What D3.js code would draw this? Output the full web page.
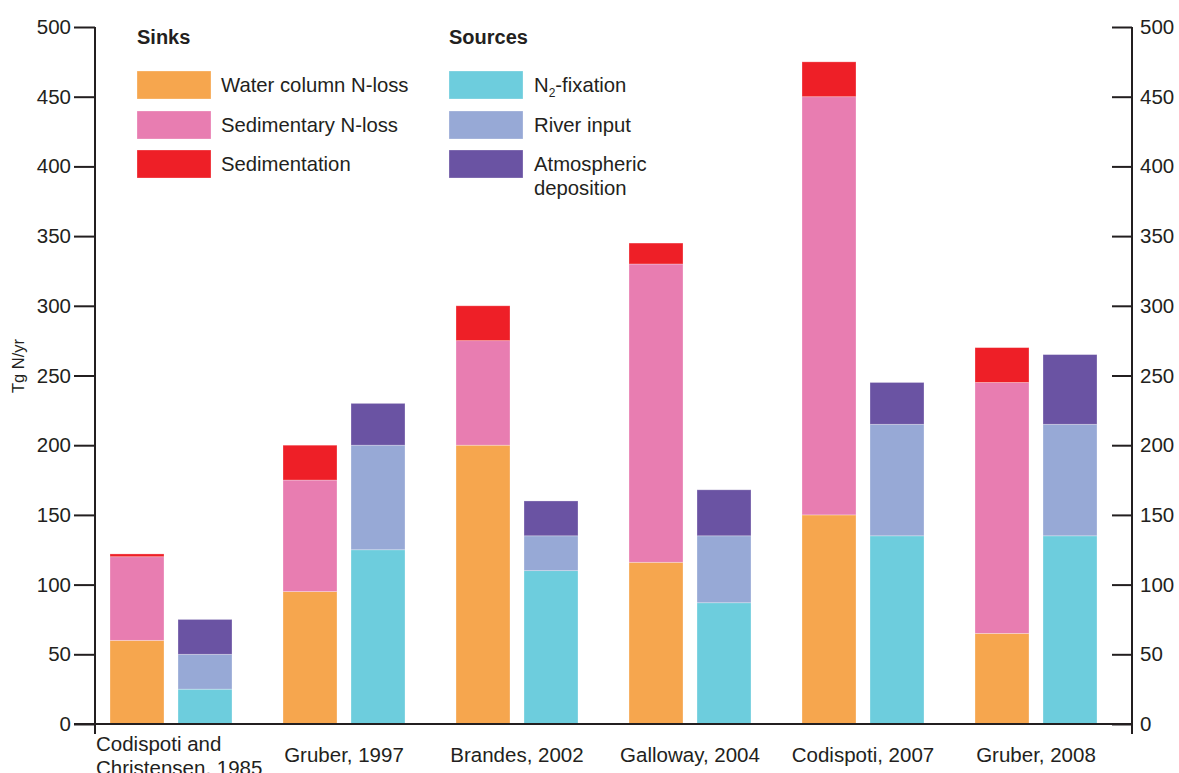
<!DOCTYPE html>
<html>
<head>
<meta charset="utf-8">
<script src="https://cdn.jsdelivr.net/npm/d3@7/dist/d3.min.js"></script>
<style>
  html, body { margin: 0; padding: 0; background: #fff; }
  svg { display: block; font-family: "Liberation Sans", Arial, Helvetica, sans-serif; }
</style>
</head>
<body>
<svg id="chart" width="1179" height="773"></svg>
<script>
// ---- Data ----
const categories = ["Codispoti and\nChristensen, 1985", "Gruber, 1997", "Brandes, 2002", "Galloway, 2004", "Codispoti, 2007", "Gruber, 2008"];
// Sinks (Tg N/yr)
const waterColumnNloss = [60, 95, 200, 116, 150, 65];
const sedimentaryNloss = [60, 80, 75, 214, 300, 180];
const sedimentation    = [2, 25, 25, 15, 25, 25];
// Sources (Tg N/yr)
const n2Fixation       = [25, 125, 110, 87, 135, 135];
const riverInput       = [25, 75, 25, 48, 80, 80];
const atmDeposition    = [25, 30, 25, 33, 30, 50];
const yTicks = [0, 50, 100, 150, 200, 250, 300, 350, 400, 450, 500];

const sinkKeys = ["Water column N-loss", "Sedimentary N-loss", "Sedimentation"];
const sourceKeys = ["N2-fixation", "River input", "Atmospheric deposition"];
const colors = {
  "Water column N-loss": "#F6A64E",
  "Sedimentary N-loss": "#E87DB1",
  "Sedimentation": "#EE1F27",
  "N2-fixation": "#6DCDDD",
  "River input": "#97A9D6",
  "Atmospheric deposition": "#6A53A3"
};

const sinkRows = categories.map((c, i) => ({
  cat: c,
  "Water column N-loss": waterColumnNloss[i],
  "Sedimentary N-loss": sedimentaryNloss[i],
  "Sedimentation": sedimentation[i]
}));
const sourceRows = categories.map((c, i) => ({
  cat: c,
  "N2-fixation": n2Fixation[i],
  "River input": riverInput[i],
  "Atmospheric deposition": atmDeposition[i]
}));

// ---- Layout ----
const svg = d3.select("#chart");
const ink = "#231F20";
const axisLeftX = 95, axisRightX = 1132;

const y = d3.scaleLinear().domain([0, 500]).range([724, 27]);
const x = d3.scaleBand().domain(categories).range([84.5, 1122.5]).paddingInner(0).paddingOuter(0);
const xi = d3.scaleBand().domain(["sinks", "sources"]).range([25.5, 147.5]).paddingInner(0.206).paddingOuter(0);

// ---- Bars ----
function drawStack(rows, keys, group) {
  const series = d3.stack().keys(keys)(rows);
  const g = svg.append("g");
  series.forEach(s => {
    g.selectAll(null).data(s).enter().append("rect")
      .attr("x", d => x(d.data.cat) + xi(group))
      .attr("width", xi.bandwidth())
      .attr("y", d => y(d[1]))
      .attr("height", d => y(d[0]) - y(d[1]))
      .attr("fill", colors[s.key])
      .attr("stroke", "rgba(255,255,255,0.35)")
      .attr("stroke-width", 0.8);
  });
}
drawStack(sinkRows, sinkKeys, "sinks");
drawStack(sourceRows, sourceKeys, "sources");

// ---- Axes ----
const leftAxis = d3.axisLeft(y).tickValues(yTicks).tickSize(21).tickPadding(3);
const gl = svg.append("g").attr("transform", `translate(${axisLeftX},0)`).call(leftAxis);
const rightAxis = d3.axisRight(y).tickValues(yTicks).tickSize(-20).tickPadding(8);
const gr = svg.append("g").attr("transform", `translate(${axisRightX},0)`).call(rightAxis);
[gl, gr].forEach(g => {
  g.select(".domain").remove();
  g.selectAll(".tick line").attr("stroke", ink).attr("stroke-width", 2);
  g.selectAll(".tick text").attr("fill", ink).style("font-size", "20.5px")
    .style("font-family", '"Liberation Sans", Arial, sans-serif');
});

// axis lines (extend a little below zero)
svg.append("line").attr("x1", axisLeftX).attr("x2", axisLeftX)
  .attr("y1", y(500)).attr("y2", y(0) + 10).attr("stroke", ink).attr("stroke-width", 2);
svg.append("line").attr("x1", axisRightX).attr("x2", axisRightX)
  .attr("y1", y(500)).attr("y2", y(0) + 10).attr("stroke", ink).attr("stroke-width", 2);
svg.append("line").attr("x1", axisLeftX - 21).attr("x2", axisRightX)
  .attr("y1", y(0)).attr("y2", y(0)).attr("stroke", ink).attr("stroke-width", 2);

// category labels
categories.forEach((c, i) => {
  const lines = c.split("\n");
  if (lines.length > 1) {
    const t = svg.append("text").attr("fill", ink).style("font-size", "20.5px")
      .attr("x", axisLeftX + 1).attr("y", 751);
    lines.forEach((ln, j) => {
      t.append("tspan").attr("x", axisLeftX + 1).attr("dy", j === 0 ? 0 : 24).text(ln);
    });
  } else {
    svg.append("text").attr("fill", ink).style("font-size", "20.5px")
      .attr("x", x(c) + x.bandwidth() / 2).attr("y", 762)
      .attr("text-anchor", "middle").text(c);
  }
});

// y axis title
svg.append("text").attr("fill", ink).style("font-size", "16.5px")
  .attr("transform", "translate(24,366) rotate(-90)")
  .attr("text-anchor", "middle").text("Tg N/yr");

// ---- Legend ----
function legendBlock(title, keys, x0, textX) {
  svg.append("text").attr("x", x0).attr("y", 44).attr("fill", ink)
    .style("font-size", "20px").style("font-weight", "bold").text(title);
  const sw = [71, 111, 150];
  keys.forEach((k, i) => {
    svg.append("rect").attr("x", x0).attr("y", sw[i]).attr("width", 74).attr("height", 28)
      .attr("fill", colors[k]).attr("stroke", "rgba(255,255,255,0.35)").attr("stroke-width", 0.8);
    const t = svg.append("text").attr("x", textX).attr("y", sw[i] + 21).attr("fill", ink)
      .style("font-size", "20.3px");
    if (k === "N2-fixation") {
      t.append("tspan").text("N");
      t.append("tspan").attr("dy", 5).style("font-size", "12px").text("2");
      t.append("tspan").attr("dy", -5).text("-fixation");
    } else if (k === "Atmospheric deposition") {
      t.append("tspan").attr("x", textX).text("Atmospheric");
      t.append("tspan").attr("x", textX).attr("dy", 24).text("deposition");
    } else {
      t.text(k);
    }
  });
}
legendBlock("Sinks", sinkKeys, 137, 221);
legendBlock("Sources", sourceKeys, 449, 534);
</script>
</body>
</html>
